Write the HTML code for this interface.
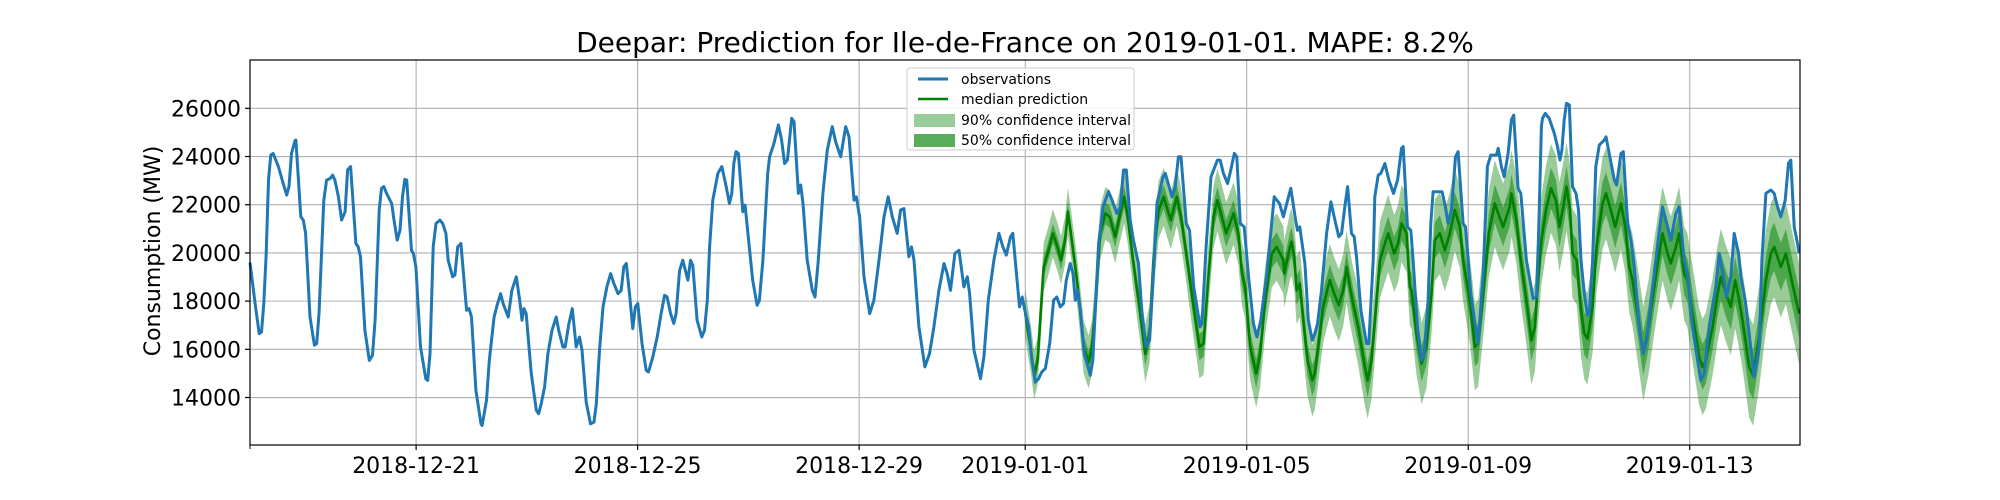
<!DOCTYPE html>
<html><head><meta charset="utf-8"><style>
html,body{margin:0;padding:0;background:#fff;}
svg{display:block;font-family:"DejaVu Sans","Liberation Sans",sans-serif;}
</style></head><body>
<svg id="chart" width="2000" height="500" viewBox="0 0 2000 500" xmlns="http://www.w3.org/2000/svg">
<rect width="2000" height="500" fill="#fff"/>
<text x="1025" y="52" font-size="28" text-anchor="middle" fill="#000">Deepar: Prediction for Ile-de-France on 2019-01-01. MAPE: 8.2%</text>
<text x="0" y="0" font-size="22" text-anchor="middle" transform="translate(160,251) rotate(-90)">Consumption (MW)</text>
<g id="grid"></g>
<g id="bands"></g>
<g id="lines"></g>
<rect x="250" y="60" width="1550" height="385" fill="none" stroke="#000" stroke-width="1.2"/>
<g id="ticks"></g>
<g>
<rect x="907" y="68" width="227" height="82" rx="3" fill="#fff" fill-opacity="0.85" stroke="#ccc" stroke-width="1"/>
<line x1="918" y1="79" x2="948" y2="79" stroke="#1f77b4" stroke-width="3"/>
<text x="961" y="84" font-size="14">observations</text>
<line x1="918" y1="99" x2="948" y2="99" stroke="#008000" stroke-width="2.5"/>
<text x="961" y="104" font-size="14">median prediction</text>
<rect x="914" y="114" width="41" height="13" fill="#008000" fill-opacity="0.4"/>
<text x="961" y="125" font-size="14">90% confidence interval</text>
<rect x="914" y="134" width="41" height="13" fill="#008000" fill-opacity="0.65"/>
<text x="961" y="145" font-size="14">50% confidence interval</text>
</g>
</svg>
<script>
// hours since 2018-12-18 00:00
const obsHours = [0,2.2,4,5,6,7,8,9,10,12.3,14.4,15.9,16.9,18,19.5,19.9,22,23.1,24.1,26,27.9,28.9,29.9,32,33.2,34.7,35.8,36.8,38.3,39.7,41.2,42.3,43.6,45.9,46.9,47.9,49.8,51.7,53.1,54.2,56,57,58,59.2,61.4,62.4,63.8,65,66.1,67.1,67.9,70,70.8,71.9,73.9,76.2,77,78,79.4,80.6,82.3,83.5,84.9,85.9,87.8,88.8,90,91.4,93.9,94.9,96,97.9,100.1,100.6,102.5,103.7,105.8,107.1,108.6,109.7,111.9,
113.5,115.4,116.9,117.9,118.7,119.7,120.8,121.9,124.1,125.1,126.2,127.7,129.1,130.9,132.7,133.8,135.6,136.6,138.1,139.7,141.4,142.8,143.9,145.7,147.6,149.1,150.1,151.5,153,154.7,156.3,157.7,159.5,160.9,162,163.1,164.5,165.9,167,168.1,169.9,171.7,172.7,174.6,176.5,178.2,179.7,180.8,182.3,183.7,184.7,186.2,187.6,189.8,190.9,191.9,193.8,195.8,197,198.2,199.2,200.6,202.8,204.5,206.4,207.8,208.8,209.7,210.7,211.7,213.6,214.6,216.1,217.9,219.8,220.8,222.3,224.4,
225.2,227.1,229,230.4,231.7,232.9,234.8,235.8,237.7,238.7,239.7,241.5,243.7,244.9,246.3,248.3,250.2,252.4,253.8,256,258.2,259.6,261.8,262.8,264.2,266.1,268.6,270.4,272.6,274.8,276.6,278.4,280.5,282,283.4,285.6,286.7,287.8,289.9,292.5,294.5,296.4,298.6,300.8,302.2,303.6,305.5,307.3,309.4,310.9,311.9,313.8,316.6,318.1,320,322.4,324.6,326.3,327.8,329.6,330.6,333.5,334.7,335.8,
337.5,338.9,340.4,341.8,343.2,344.7,346.6,348.3,349.7,351.2,352.6,353.8,355.5,356.7,357.7,358.7,359.9,361.6,364.2,365.3,366.3,367.8,369.7,372.1,373.6,375.7,377.2,378.6,379.8,381.5,382.9,385.1,386.6,388.4,389.9,391.6,393.1,395.7,396.7,399.6,401,402.4,403.5,405.8,407.2,409,411.8,412.6,414.4,416.5,419.3,420.5,421.9,423.7,425.1,426.6,427.7,429.2,430.9,432.8,434.9,436.4,438.1,440.7,443.9,446.2,447.9,
449.7,451.1,453.2,454,455,455.8,457.2,458.7,460.4,461.5,462.7,464.4,466.6,468.5,470.2,471.9,473.1,474.5,475.7,477.4,478.6,479.6,481.5,483.9,484.9,486.8,487.5,489,490.1,491.9,493.6,495.6,497.4,499.1,499.8,501.7,503.1,504.1,506,507.8,508.9,510.6,511.8,512.8,516.7,518.1,519.3,520.7,522.5,523.6,525.8,526.8,529.1,531.6,532.3,534.5,536.3,537.8,540.2,541,542.4,543.6,545.3,546.7,547.7,549.6,550.8,553.2,556.1,557.6,558.6,559.7,
560.2,561.4,563.1,565.3,566.7,567.8,568.6,569.6,570.6,571.8,573.2,574.7,575.8,576.9,578.3,579.7,580.5,581.9,583.3,584.8,587,587.7,589.1,591.3,592.3,594.2,595.2,597.1,598.5,600,602.1,603.9,605.3,607.9,610.8,612.2,614.4,615.8,618,619.4,621.6,623,625.2,627.4,628.8,630.3,632.4,635.3,636.8,638.9,639.9,641.8,643.3,645.2,646.2,648,649.8,651.9,654.1,655.3,657,659.2,660.6,662.1,663.5,665.4,666.8,667.8,669.3,670.7,671.4];
const obsValues = [19600,17900,16650,16720,17900,19975,23020,24060,24130,23580,22880,22400,22750,24130,24660,24680,21500,21360,20810,17340,16170,16240,17480,22190,23020,23090,23230,23020,22330,21360,21710,23440,23580,20390,20250,19840,16790,15540,15750,17210,21780,22680,22750,22470,22050,21360,20530,20940,22330,23050,23020,20110,19975,19420,16100,14780,14710,15820,20250,21220,21360,21220,20810,19700,19010,19080,20250,20390,17620,17690,17340,14300,12910,12840,13880,15540,17340,17830,18310,17900,17340,
18450,19010,18040,17210,17690,17480,16240,14990,13470,13330,13740,14440,15820,16790,17340,16790,16100,16100,17000,17690,16100,16510,15960,13810,12910,12980,13740,15960,17760,18590,19140,18730,18310,18450,19420,19560,18310,16860,17760,17900,16240,15130,15060,15680,16510,17480,18240,18170,17480,17070,17480,19280,19700,18870,19700,19490,17210,16510,16790,18040,20250,22190,23300,23580,22750,22050,22470,23710,24200,24130,21710,21980,20530,18870,17830,18040,19700,23300,
23990,24550,25310,24680,23710,23850,25580,25450,22470,22820,22050,19700,18450,18170,19700,22470,24270,25240,24620,23990,25240,24820,22190,22330,21500,19010,17480,18040,19700,21500,22330,21500,20810,21780,21840,19840,20250,19700,16930,15270,15820,16930,18450,19560,19140,18450,19975,20110,18590,19010,18310,15960,14780,15680,18040,19700,20810,20250,19910,20670,20810,17760,18170,17620,
16930,15540,14640,14780,15060,15200,16240,18040,18170,17760,17900,18870,19560,19140,18040,18450,17620,15820,14920,15540,17480,20390,21910,22540,22190,21640,21910,23440,23440,21360,20530,19560,17480,16100,16370,19140,22050,23160,23300,22330,22750,23990,23990,21220,20940,18590,16930,17070,20250,23160,23850,23850,23300,22880,23440,24130,23990,21220,21080,18990,17070,16510,17210,19140,22330,22050,21500,
22190,22680,21360,20940,21080,20530,19560,17210,16370,16650,17070,18450,20810,22120,21360,20670,20810,21910,22750,20810,20670,19840,17620,16240,16240,19700,22330,23230,23300,23710,23020,22470,23020,24340,24410,21080,20940,19700,16930,15540,15820,18040,21220,22540,22540,21910,21220,21780,23990,24200,21220,21080,18310,16650,16240,19140,23580,24060,24060,24340,23580,23160,24130,25520,25720,22680,22470,19700,18110,18170,21080,25240,
25580,25790,25580,24960,24410,23850,24270,25520,26210,26140,22750,22470,21780,19700,18310,17410,17480,19700,23580,24480,24680,24820,24130,23020,22820,24130,24200,21220,20530,19420,16930,15820,16370,18590,20940,21910,21080,20530,21640,21910,19700,19140,16930,15540,14710,14990,16930,18590,19975,18870,18170,19010,20810,19975,19010,18040,16650,14850,16100,19700,22470,22610,22470,21910,21500,22190,23710,23850,21080,20390,19975];

const predHours = [336,336.7,338.5,339.9,341.4,342.8,344,346.1,348,350,351.5,353.3,354.5,355.8,357.7,359.1,361.3,363.5,364.9,366.8,368.5,370.7,372.6,375,377.2,378.9,380.4,382.7,385.1,388,389.9,391.6,393.8,396,397.7,399.1,401.7,403.5,405.8,408.2,411.5,413.3,415.4,417.6,419.3,421.2,423.1,426.3,428.4,429.9,431.3,433.5,436.1,437.8,440,442.9,445,447.9,
448.3,450.7,451.4,452.6,453.6,455,456.5,458.4,460.4,461.5,463,465.1,468,469.9,471.9,473.8,475.3,476.7,478.1,480.3,483.2,484.4,486.1,488.3,489.7,491.9,493.3,495.9,497.6,499.1,501.3,502.7,503.4,505.6,507.8,509.9,512.1,513.5,515.7,517.9,520,522.2,524.4,525.8,528.7,530.9,532.3,534.5,536.9,539.5,541,543.1,546,546.7,548.9,550.8,553.2,555.4,556.9,558.3,559.7,
561.7,563.9,566,567.5,569.2,570.6,572.1,573.2,575,576.9,578.3,579.7,581.9,583.6,586.2,587.7,589.8,591.7,594.2,596.1,597.8,599.2,601.4,603.9,606.2,608.6,610.8,612.2,614.4,615.8,618,619.4,621.6,623,625.2,628.1,629.6,631,633.9,636.1,637.5,639.7,641.8,643.7,645.2,646.9,649.8,651.5,654.1,657,659.2,660.6,663.5,665.7,668.5,671.4];
const medianValues = [17500,17070,15960,14920,15540,17620,19420,20110,20810,20250,19700,20530,21710,20810,19420,18310,16100,15470,16100,18310,20810,21640,21500,20670,21640,22330,21500,19700,18040,15820,16650,19700,21780,22330,21780,21360,22330,21500,19975,18310,16100,16240,19010,21500,22190,21500,20810,21640,20810,19140,18590,16100,14990,15820,18040,19975,20250,19700,
19140,20250,20460,19840,18450,18730,17210,15540,14710,14990,16100,17760,18870,18310,17830,18450,19420,18590,17900,16930,15270,14710,15540,18040,19700,20390,20810,19975,20390,21220,20810,18590,18450,16650,15410,16100,18310,20530,20810,20110,20810,21780,21080,19700,18040,16100,16240,18310,20810,22050,21640,21080,21910,22470,21360,19700,18040,16370,16930,18870,20530,
21780,22680,22190,21080,21910,22750,21780,19975,19700,17620,16650,16440,17760,20250,22050,22470,21780,21080,22050,21080,19420,18870,17480,15820,16930,18590,19975,20810,19975,19560,20250,20810,19140,18870,17480,15680,15270,15540,16930,18310,19010,18310,17760,18870,18170,17210,15270,14920,16510,18870,19975,20250,19420,19975,18730,17480];
// half-widths of the intervals (MW), one per forecast day starting 2019-01-01
const half50ByDay = [400,450,500,550,600,650,700,750,800,850,880,900,950,1000];
const half90ByDay = [1000,1100,1200,1300,1400,1500,1600,1700,1800,1850,1900,1950,2000,2100];
const yTicks = [14000,16000,18000,20000,22000,24000,26000];
const xTickHours = [72,168,264,336,432,528,624];
const xTickLabels = ["2018-12-21","2018-12-25","2018-12-29","2019-01-01","2019-01-05","2019-01-09","2019-01-13"];

const NS = "http://www.w3.org/2000/svg";
const X0=250, X1=1800, Y0=445, Y1=60;
const HMIN=0, HMAX=671.8, VMIN=12030, VMAX=28005;
function xs(h){return X0+(h-HMIN)/(HMAX-HMIN)*(X1-X0);}
function ys(v){return Y0-(v-VMIN)/(VMAX-VMIN)*(Y0-Y1);}
function mk(tag,attrs,parent){const e=document.createElementNS(NS,tag);for(const k in attrs)e.setAttribute(k,attrs[k]);parent.appendChild(e);return e;}
const grid=document.getElementById('grid'), ticks=document.getElementById('ticks');
const bands=document.getElementById('bands'), lines=document.getElementById('lines');

yTicks.forEach(v=>{
  const y=ys(v);
  const g=mk('line',{x1:X0,x2:X1,y1:y,y2:y,stroke:'#b0b0b0','stroke-width':1.1},grid);
  
  
  const t=mk('line',{x1:X0-5,x2:X0,y1:y,y2:y,stroke:'#000','stroke-width':1.2},ticks);
  
  
  const l=mk('text',{x:X0-9,y:y+8,'font-size':22,'text-anchor':'end'},ticks);
  l.textContent=String(v);
  
  
});
xTickHours.forEach((h,i)=>{
  const x=xs(h);
  const g=mk('line',{x1:x,x2:x,y1:Y1,y2:Y0,stroke:'#b0b0b0','stroke-width':1.1},grid);
  
  
  const t=mk('line',{x1:x,x2:x,y1:Y0,y2:Y0+5,stroke:'#000','stroke-width':1.2},ticks);
  
  
  const l=mk('text',{x:x,y:Y0+28,'font-size':22,'text-anchor':'middle'},ticks);
  l.textContent=xTickLabels[i];
  
  
});
const lt=mk('line',{x1:X0,x2:X0,y1:Y0,y2:Y0+4,stroke:'#000','stroke-width':1},ticks);



function dayIdx(h){return Math.max(0,Math.min(half50ByDay.length-1,Math.floor((h-336)/24)));}
function bandPath(halfArr){
  const up=predHours.map((h,i)=>xs(h).toFixed(1)+','+ys(medianValues[i]+halfArr[dayIdx(h)]).toFixed(1));
  const dn=predHours.map((h,i)=>xs(h).toFixed(1)+','+ys(medianValues[i]-halfArr[dayIdx(h)]).toFixed(1)).reverse();
  return 'M'+up.join('L')+'L'+dn.join('L')+'Z';
}
const b90=mk('path',{d:bandPath(half90ByDay),fill:'#008000','fill-opacity':0.4,stroke:'none'},bands);


const b50=mk('path',{d:bandPath(half50ByDay),fill:'#008000','fill-opacity':0.5,stroke:'none'},bands);


const med=mk('polyline',{points:predHours.map((h,i)=>xs(h).toFixed(1)+','+ys(medianValues[i]).toFixed(1)).join(' '),fill:'none',stroke:'#008000','stroke-width':2.6,'stroke-linejoin':'round'},lines);


const obs=mk('polyline',{points:obsHours.map((h,i)=>xs(h).toFixed(1)+','+ys(obsValues[i]).toFixed(1)).join(' '),fill:'none',stroke:'#1f77b4','stroke-width':3,'stroke-linejoin':'round'},lines);


</script>
</body></html>
